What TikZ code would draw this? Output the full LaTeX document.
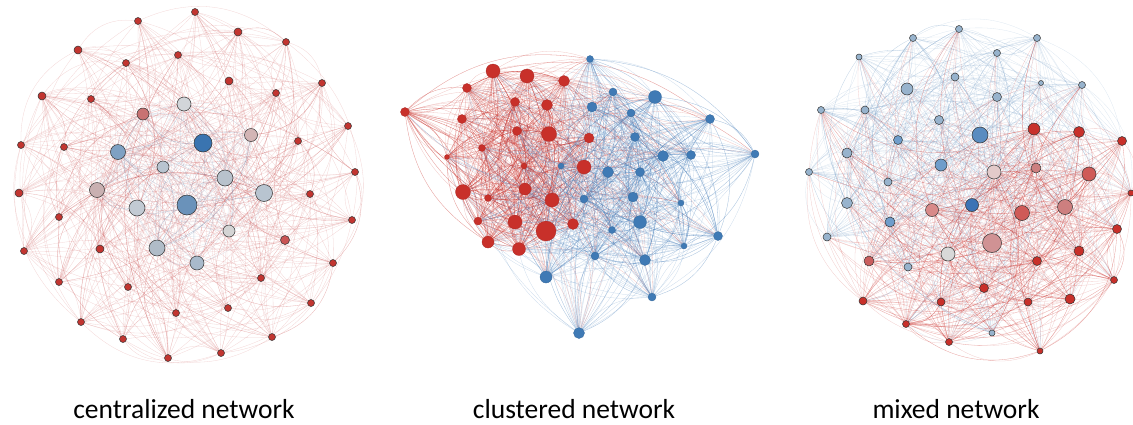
\documentclass[tikz,border=0pt]{standalone}
\usepackage{fontspec}
\setmainfont{Carlito}
\pgfdeclarelayer{bg}
\pgfsetlayers{bg,main}
% node fills
\definecolor{cR}{HTML}{C23530}
\definecolor{cR2}{HTML}{C95454}
\definecolor{cLG}{HTML}{D2D5D9}
\definecolor{cPR}{HTML}{C87272}
\definecolor{cPG}{HTML}{D3B5B5}
\definecolor{cB1}{HTML}{3A74B0}
\definecolor{cB2}{HTML}{7EA1C3}
\definecolor{cG1}{HTML}{B8C4D0}
\definecolor{cG2}{HTML}{B8C2CC}
\definecolor{cPG2}{HTML}{C9B0B1}
\definecolor{cG3}{HTML}{C2CAD3}
\definecolor{cB3}{HTML}{6A92BA}
\definecolor{cLG2}{HTML}{D4D4D4}
\definecolor{cG4}{HTML}{B0BCC8}
\definecolor{cG5}{HTML}{A9BACB}
\definecolor{kR}{HTML}{C8302A}
\definecolor{kB}{HTML}{3F7AB5}
\definecolor{mLB}{HTML}{97B3CD}
\definecolor{mB1}{HTML}{5A8CC0}
\definecolor{mB2}{HTML}{6F9DCB}
\definecolor{mB3}{HTML}{3B73B5}
\definecolor{mR}{HTML}{C8302A}
\definecolor{mP1}{HTML}{E3CACA}
\definecolor{mP2}{HTML}{CD7F7F}
\definecolor{mP3}{HTML}{CF5A57}
\definecolor{mP4}{HTML}{D88A89}
\definecolor{mP5}{HTML}{D09294}
\definecolor{mP6}{HTML}{CA5E5E}
\definecolor{mGr}{HTML}{D8D8D8}
% edge colours
\definecolor{eCR}{HTML}{CC5A5A}
\definecolor{eCB}{HTML}{7F97B8}
\definecolor{eKR}{HTML}{C8302A}
\definecolor{eKB}{HTML}{4A80BA}
\definecolor{eMR}{HTML}{CC3A36}
\definecolor{eMB}{HTML}{86A9CC}
\tikzset{
  vtx/.style={circle, inner sep=0pt, draw=black!80, line width=0.5pt},
  kvtx/.style={circle, inner sep=0pt, line width=0.3pt},
  cedgeR/.style={draw=eCR, line width=0.3pt, opacity=0.25},
  cedgeB/.style={draw=eCB, line width=0.3pt, opacity=0.22},
  kedgeR/.style={draw=eKR, line width=0.3pt, opacity=0.28},
  kedgeB/.style={draw=eKB, line width=0.3pt, opacity=0.28},
  medgeR/.style={draw=eMR, line width=0.3pt, opacity=0.26},
  medgeB/.style={draw=eMB, line width=0.3pt, opacity=0.28},
  lbl/.style={font=\fontsize{27.5}{33}\selectfont, anchor=base, inner sep=0pt}
}
\begin{document}
\begin{tikzpicture}[x=1pt,y=-1pt]
\useasboundingbox (0,0) rectangle (1133,424);
\pgfmathsetseed{12345}
% ---------------- centralized network ----------------
\foreach \x/\y/\r/\c [count=\n] in {195/12/3.5/cR, 138/21/3.5/cR, 238/32/4/cR, 286/42/3.5/cR, 78/50/4/cR, 178/55/3.5/cR, 126/63/3.5/cR, 229/81/4/cR, 322/83/3.5/cR, 276/93/3.5/cR, 42/96/4/cR, 91/99/3.5/cR, 348/126/3.5/cR, 298/141/3.5/cR, 21/145/3.5/cR, 64/147/3.5/cR, 355/172/3.5/cR, 19/193/4/cR, 310/194/3.5/cR, 59/217/3.5/cR, 352/220/3.5/cR, 285/240/4.5/cR2, 24/251/3.5/cR, 100/249/4/cR, 333/263/3.5/cR, 59/282/3.5/cR, 261/278/3.5/cR, 128/287/3.5/cR, 311/303/3.5/cR, 176/313/3.5/cR, 228/308/3.5/cR, 81/322/3.5/cR, 123/339/3.5/cR, 272/337/3.5/cR, 221/353/3.5/cR, 168/358/3.5/cR}
  \node[vtx, fill=\c, minimum size={2*\r*1pt}] (co\n) at (\x,\y) {};
\foreach \x/\y/\r/\c [count=\n] in {184/104/7/cLG, 143/114/6/cPR, 251/135/6.5/cPG, 203/143/9/cB1, 118/152/7.5/cB2, 163/167/6/cG1, 225/178/8/cG2, 97/190/7.5/cPG2, 264/193/8.5/cG1, 137/208/8/cG3, 187/205/10/cB3, 229/231/6/cLG2, 157/248/8/cG4, 197/263/7/cG5}
  \node[vtx, fill=\c, minimum size={2*\r*1pt}] (ci\n) at (\x,\y) {};
% ---------------- clustered network ----------------
\foreach \x/\y/\r [count=\n] in {405/112/4.5, 493/71/7, 527/76/7, 564/81/5.5, 467/88/4.5, 515/102/4.5, 547/105/5.5, 462/119/4.5, 517/131/4.5, 549/134/7.5, 589/138/5, 482/148/3.5, 447/157/2.5, 524/166/3, 584/167/7, 463/192/7.5, 525/189/6, 488/198/3.5, 552/200/7, 478/221/4, 515/222/7, 546/231/10, 573/224/5.5, 488/242/6, 519/249/6.5}
  \node[kvtx, fill=kR, draw=kR!85!black, minimum size={2*\r*1pt}] (kr\n) at (\x,\y) {};
\foreach \x/\y/\r [count=\n] in {590/59/3.5, 613/92/4, 655/97/6.5, 592/107/5, 631/113/4, 710/119/4.5, 635/137/4.5, 755/154/4, 663/156/5.5, 691/155/4.5, 561/166/3, 608/172/5.5, 640/172/4.5, 633/197/5, 584/199/4, 681/203/3, 640/222/6.5, 612/230/3.5, 718/236/4.5, 684/246/3, 595/256/4, 645/260/5.5, 546/277/6, 652/297/4, 579/333/5.5}
  \node[kvtx, fill=kB, draw=kB!85!black, minimum size={2*\r*1pt}] (kb\n) at (\x,\y) {};
% ---------------- mixed network ----------------
\foreach \x/\y/\r/\c [count=\n] in {959/29/3.5/mLB, 1037/38/3.5/mLB, 913/38/3.5/mLB, 859/57/3/mLB, 997/53/3.5/mLB, 955/77/4/mLB, 1041/83/2.5/mLB, 1082/85/3.5/mLB, 907/89/6/mLB, 997/97/4.5/mLB, 821/110/3.5/mLB, 865/110/4/mLB, 939/120/4.5/mLB, 980/135/8/mB1, 898/140/4.5/mB2, 847/153/5/mLB, 941/165/6/mB2, 809/172/3.5/mLB, 888/182/4/mLB, 847/203/5.5/mLB, 972/205/6.5/mB3, 890/222/5/mB2, 827/237/4/mLB, 908/267/4/mLB, 992/333/3/mLB}
  \node[vtx, fill=\c, minimum size={2*\r*1pt}] (mb\n) at (\x,\y) {};
\foreach \x/\y/\r/\c [count=\n] in {1034/129/6/mR, 1079/132/5.5/mR, 1122/141/4.5/mR, 994/172/7/mP1, 1036/168/5/mP2, 1089/174/7/mP3, 1131/193/3/mR, 932/210/6.5/mP4, 1022/213/7.5/mP3, 1065/207/7.5/mP2, 1117/229/4.5/mR, 992/243/9.5/mP5, 1079/251/5/mR, 948/254/7/mGr, 869/261/5/mP6, 1037/261/4.5/mR, 1114/280/3.5/mR, 984/288/4.5/mR, 863/301/4/mR, 941/302/4/mR, 1028/302/4/mR, 1070/299/5/mR, 906/324/3.5/mR, 949/342/3.5/mR, 1040/351/3/mR}
  \node[vtx, fill=\c, minimum size={2*\r*1pt}] (mr\n) at (\x,\y) {};
% ---------------- edges ----------------
\begin{pgfonlayer}{bg}
% centralized
\foreach \i in {1,...,36}{
  \foreach \k in {1,...,8}{
    \pgfmathtruncatemacro\j{random(1,36)}
    \ifnum\i=\j\else\draw[cedgeR] (co\i) to[bend left=32] (co\j);\fi
  }
  \foreach \k in {1,...,7}{
    \pgfmathtruncatemacro\j{random(1,14)}
    \draw[cedgeR] (co\i) to[bend left=30] (ci\j);
  }
}
\foreach \i in {1,...,14}{
  \foreach \k in {1,...,11}{
    \pgfmathtruncatemacro\j{random(1,14)}
    \ifnum\i=\j\else\draw[cedgeB] (ci\i) to[bend left=30] (ci\j);\fi
  }
}
% clustered
\foreach \i in {1,...,25}{
  \foreach \k in {1,...,26}{
    \pgfmathtruncatemacro\j{random(1,25)}
    \ifnum\i=\j\else\draw[kedgeR] (kr\i) to[bend left=25] (kr\j);\fi
  }
  \foreach \k in {1,...,7}{
    \pgfmathtruncatemacro\j{random(1,25)}
    \draw[kedgeR] (kr\i) to[bend left=25] (kb\j);
  }
}
\foreach \i in {1,...,25}{
  \foreach \k in {1,...,20}{
    \pgfmathtruncatemacro\j{random(1,25)}
    \ifnum\i=\j\else\draw[kedgeB] (kb\i) to[bend left=25] (kb\j);\fi
  }
  \foreach \k in {1,...,7}{
    \pgfmathtruncatemacro\j{random(1,25)}
    \draw[kedgeB] (kb\i) to[bend left=25] (kr\j);
  }
}
% mixed
\foreach \i in {1,...,25}{
  \foreach \k in {1,...,12}{
    \pgfmathtruncatemacro\j{random(1,25)}
    \ifnum\i=\j\else\draw[medgeB] (mb\i) to[bend left=30] (mb\j);\fi
  }
  \foreach \k in {1,...,7}{
    \pgfmathtruncatemacro\j{random(1,25)}
    \draw[medgeB] (mb\i) to[bend left=30] (mr\j);
  }
}
\foreach \i in {1,...,25}{
  \foreach \k in {1,...,16}{
    \pgfmathtruncatemacro\j{random(1,25)}
    \ifnum\i=\j\else\draw[medgeR] (mr\i) to[bend left=30] (mr\j);\fi
  }
  \foreach \k in {1,...,7}{
    \pgfmathtruncatemacro\j{random(1,25)}
    \draw[medgeR] (mr\i) to[bend left=30] (mb\j);
  }
}
\end{pgfonlayer}
% ---------------- labels ----------------
\node[lbl] (lc) at (184,418) {centralized network};
\node[lbl] (lk) at (574,418) {clustered network};
\node[lbl] (lm) at (956,418) {mixed network};
\end{tikzpicture}
\end{document}
